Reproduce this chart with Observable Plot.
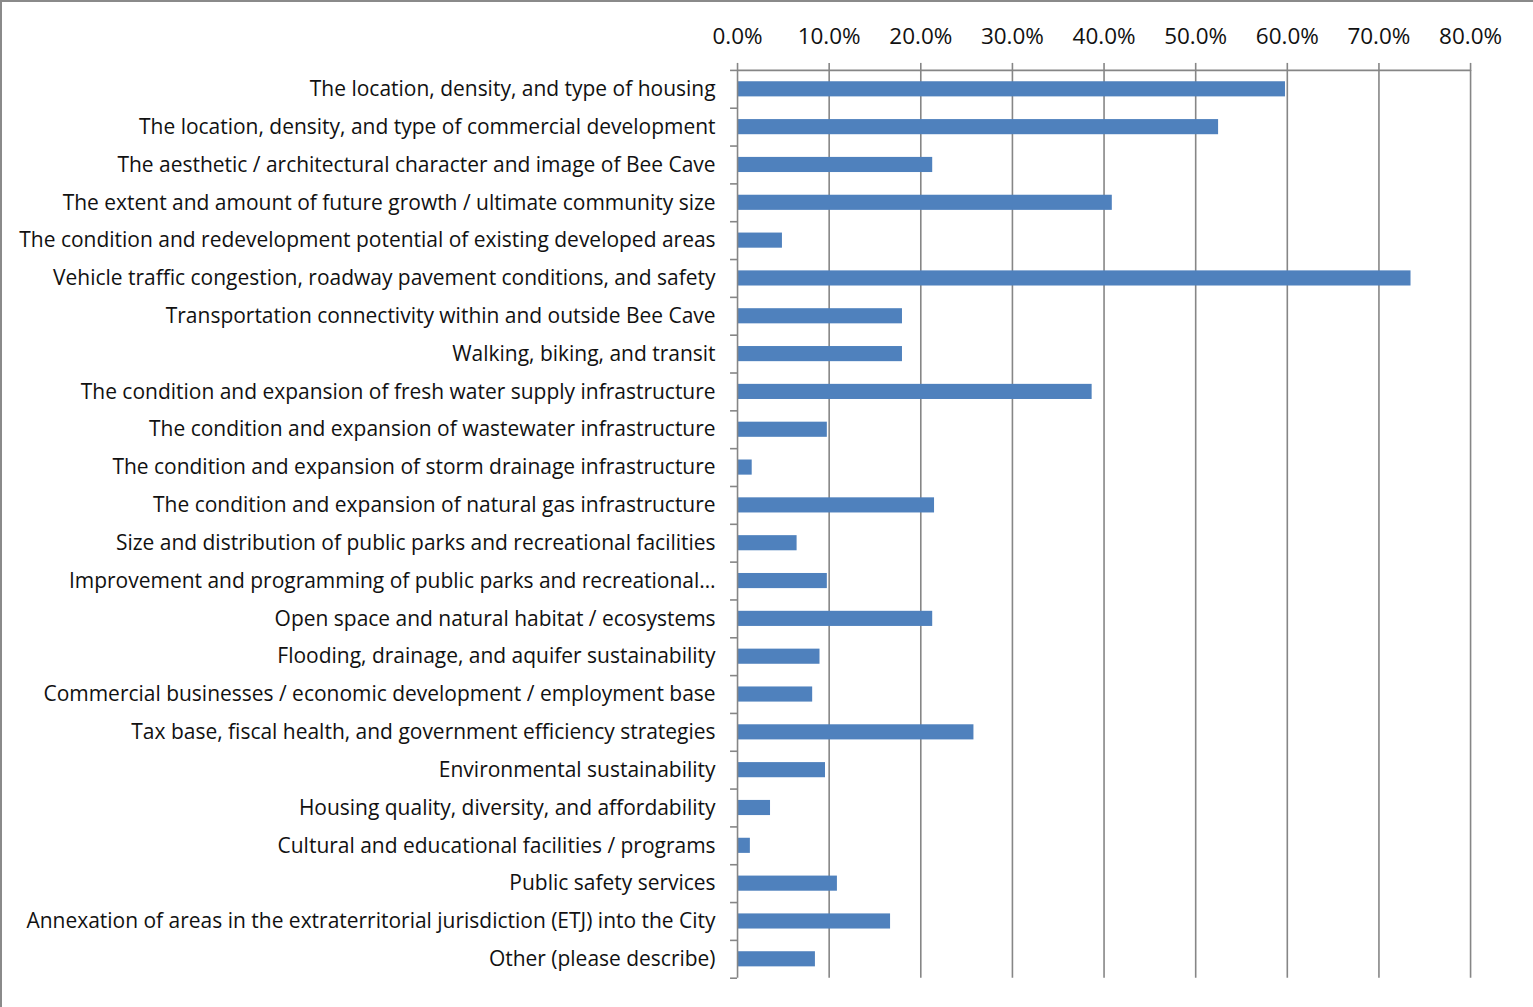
<!DOCTYPE html>
<html>
<head>
<meta charset="utf-8">
<script src="https://cdn.jsdelivr.net/npm/d3@7"></script>
<script src="https://cdn.jsdelivr.net/npm/@observablehq/plot@0.6"></script>
<style>
  html, body { margin: 0; padding: 0; background: #fff; overflow: hidden; }
  #chart { width: 1531px; height: 1005px; border-top: 2px solid #8a8a8a; border-left: 2px solid #8a8a8a; overflow: hidden; position: relative; }
  #chart svg { position: absolute; left: -2px; top: -2px; }
</style>
</head>
<body>
<div id="chart"></div>
<script>
const categories = [
  "The location, density, and type of housing",
  "The location, density, and type of commercial development",
  "The aesthetic / architectural character and image of Bee Cave",
  "The extent and amount of future growth / ultimate community size",
  "The condition and redevelopment potential of existing developed areas",
  "Vehicle traffic congestion, roadway pavement conditions, and safety",
  "Transportation connectivity within and outside Bee Cave",
  "Walking, biking, and transit",
  "The condition and expansion of fresh water supply infrastructure",
  "The condition and expansion of wastewater infrastructure",
  "The condition and expansion of storm drainage infrastructure",
  "The condition and expansion of natural gas infrastructure",
  "Size and distribution of public parks and recreational facilities",
  "Improvement and programming of public parks and recreational…",
  "Open space and natural habitat / ecosystems",
  "Flooding, drainage, and aquifer sustainability",
  "Commercial businesses / economic development / employment base",
  "Tax base, fiscal health, and government efficiency strategies",
  "Environmental sustainability",
  "Housing quality, diversity, and affordability",
  "Cultural and educational facilities / programs",
  "Public safety services",
  "Annexation of areas in the extraterritorial jurisdiction (ETJ) into the City",
  "Other (please describe)"
];
const values = [
  0.598, 0.525, 0.213, 0.409, 0.049, 0.735, 0.180, 0.180,
  0.387, 0.098, 0.016, 0.215, 0.065, 0.098, 0.213, 0.090,
  0.082, 0.258, 0.096, 0.036, 0.014, 0.109, 0.167, 0.085
];
const xTicks = [0, 0.1, 0.2, 0.3, 0.4, 0.5, 0.6, 0.7, 0.8];

const data = categories.map((c, i) => ({category: c, value: values[i]}));

const W = 1533, H = 1007, mTop = 70, mBottom = 28, mLeft = 738, mRight = 61;
const bw = (H - mTop - mBottom) / categories.length;
const gridColor = "#868686";
const font = "'Open Sans', sans-serif";

const chart = Plot.plot({
  width: W,
  height: H,
  marginTop: mTop,
  marginBottom: mBottom,
  marginLeft: mLeft,
  marginRight: mRight,
  style: {fontFamily: font, fontSize: "21px", color: "#000", background: "#fff", overflow: "visible"},
  x: {domain: [0, 0.8], ticks: xTicks, axis: null, label: null},
  y: {domain: categories, padding: 0, round: false, axis: null, label: null},
  marks: [
    Plot.gridX(xTicks.slice(1), {stroke: gridColor, strokeOpacity: 1, strokeWidth: 1.6}),
    Plot.axisX(xTicks, {anchor: "top", label: null, tickSize: 8, tickPadding: 18, stroke: gridColor, strokeWidth: 1.6,
      tickFormat: d => (d * 100).toFixed(1) + "%", fontSize: 22.5, fill: "#111", marginTop: mTop}),
    Plot.axisY({anchor: "left", label: null, tickSize: 0, tickPadding: 22, fontSize: 21, fill: "#111", marginLeft: mLeft}),
    Plot.barX(data, {y: "category", x: "value", fill: "#4F81BD", insetTop: bw * 0.3, insetBottom: bw * 0.3}),
    // category boundary ticks on the left axis
    Plot.ruleY(categories, {y: d => d, x1: 0, x2: 0, dy: -bw / 2, insetLeft: -7, stroke: gridColor, strokeWidth: 1.6}),
    Plot.ruleY(categories.slice(-1), {y: d => d, x1: 0, x2: 0, dy: bw / 2, insetLeft: -7, stroke: gridColor, strokeWidth: 1.6}),
    // top axis line
    Plot.ruleY(categories.slice(0, 1), {y: d => d, x1: 0, x2: 0.8, dy: -bw / 2, stroke: gridColor, strokeWidth: 1.6}),
    // left axis line
    Plot.ruleX([0], {stroke: gridColor, strokeWidth: 1.6})
  ]
});
document.getElementById("chart").appendChild(chart);
</script>
</body>
</html>
